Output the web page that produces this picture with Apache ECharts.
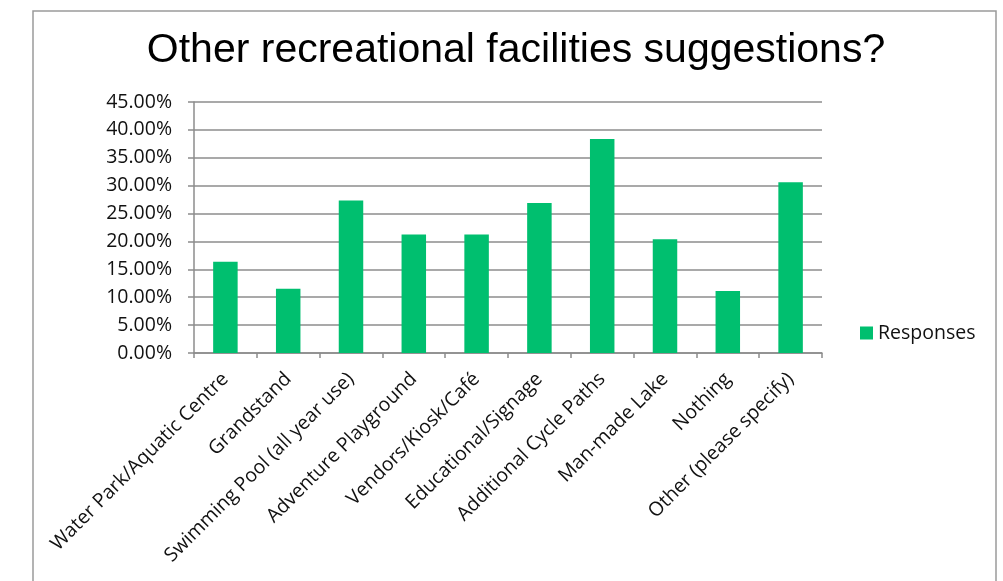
<!DOCTYPE html>
<html><head><meta charset="utf-8">
<script src="https://cdn.jsdelivr.net/npm/echarts@6/dist/echarts.min.js"></script>
<style>html,body{margin:0;padding:0;background:#fff}#c{width:1003px;height:581px}</style>
</head><body><div id="c"></div>
<script>
const categories = ["Water Park/Aquatic Centre","Grandstand","Swimming Pool (all year use)","Adventure Playground","Vendors/Kiosk/Café","Educational/Signage","Additional Cycle Paths","Man-made Lake","Nothing","Other (please specify)"];
const responses = [16.36, 11.5, 27.35, 21.26, 21.26, 26.9, 38.35, 20.4, 11.1, 30.6];
const seriesName = "Responses";
const titleText = "Other recreational facilities suggestions?";

const chart = echarts.init(document.getElementById('c'), null, {renderer:'canvas'});
const lab = "'Open Sans', Lato, sans-serif";
chart.setOption({
  animation:false,
  backgroundColor:'#fff',
  graphic:[{type:'rect', shape:{x:33,y:11,width:963,height:620}, style:{fill:'none', stroke:'#9a9a9a', lineWidth:1.5}, silent:true}],
  title:{text:titleText, left:511, top:25, textAlign:'center',
    textStyle:{fontFamily:"'Liberation Sans', Arial, sans-serif", fontSize:41, fontWeight:'normal', color:'#000'}},
  legend:{data:[seriesName], left:855, top:318, icon:'rect', itemWidth:13, itemHeight:13, itemGap:6,
    textStyle:{fontFamily:lab, fontSize:19.5, color:'#111'}},
  grid:{left:194, right:181, top:102, bottom:228, containLabel:false},
  xAxis:{type:'category', data:categories,
    axisLine:{lineStyle:{color:'#8c8c8c', width:1.5}},
    axisTick:{show:true, alignWithLabel:false, length:5, lineStyle:{color:'#8c8c8c', width:1.5}},
    axisLabel:{rotate:45, interval:0, margin:23, fontFamily:lab, fontSize:19.5, color:'#111'}},
  yAxis:{type:'value', min:0, max:45, interval:5,
    axisLine:{show:true, lineStyle:{color:'#8c8c8c', width:1.5}},
    axisTick:{show:true, length:6, lineStyle:{color:'#8c8c8c', width:1.5}},
    splitLine:{lineStyle:{color:'#8c8c8c', width:1.5}},
    axisLabel:{margin:22, fontFamily:lab, fontSize:19.5, color:'#111', formatter:v=>v.toFixed(2)+'%'}},
  series:[{name:seriesName, type:'bar', data:responses, barWidth:'39%',
    itemStyle:{color:'#00bf6f'}}]
});
</script></body></html>
